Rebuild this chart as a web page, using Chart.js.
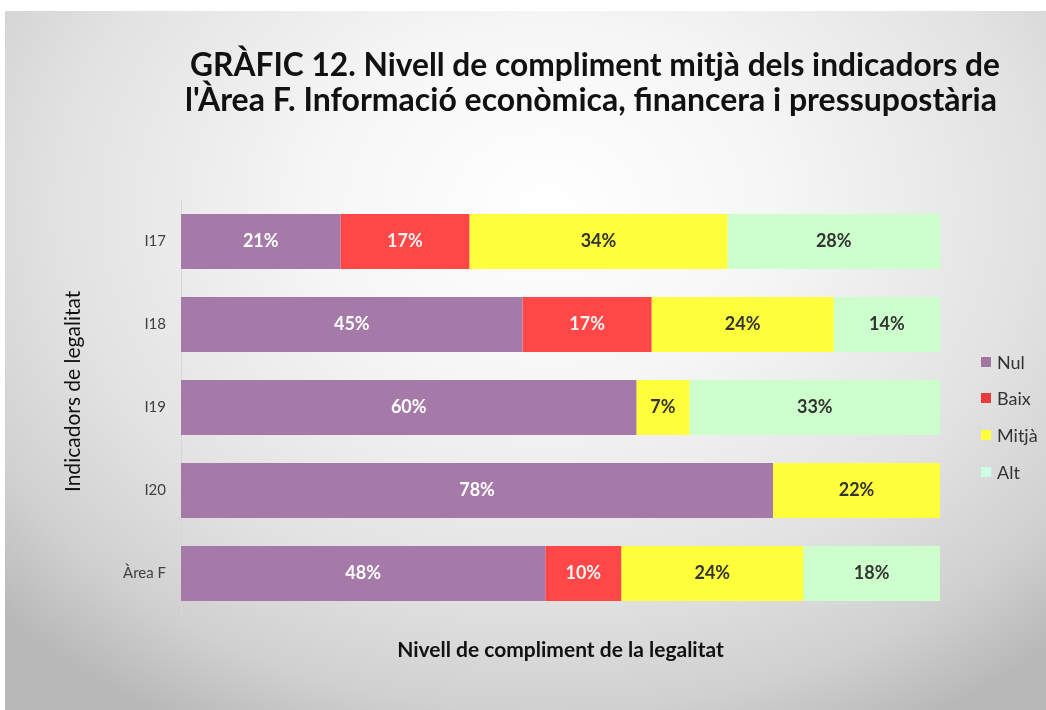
<!DOCTYPE html>
<html>
<head>
<meta charset="utf-8">
<script src="https://cdn.jsdelivr.net/npm/chart.js@4/dist/chart.umd.min.js"></script>
<style>
  html, body { margin: 0; padding: 0; background: #ffffff; }
  #bg { position: absolute; left: 5px; top: 11px; width: 1041px; height: 699px;
        background: radial-gradient(ellipse 72% 85% at 52% 28%, #ffffff 0%, #f6f6f6 30%, #e2e2e2 65%, #d0d0d0 85%, #b8b8b8 100%); }
  #wrap { position: absolute; left: 0; top: 0; width: 1046px; height: 710px; }
</style>
</head>
<body>
<div id="bg"></div>
<div id="wrap"><canvas id="c" width="1046" height="710"></canvas></div>
<script>
const categories = ['I17', 'I18', 'I19', 'I20', 'Àrea F'];
const seriesNames = ['Nul', 'Baix', 'Mitjà', 'Alt'];
const nulValues   = [21, 45, 60, 78, 48];
const baixValues  = [17, 17, 0, 0, 10];
const mitjaValues = [34, 24, 7, 22, 24];
const altValues   = [28, 14, 33, 0, 18];
const titleLines = ['GRÀFIC 12. Nivell de compliment mitjà dels indicadors de',
                    "l'Àrea F. Informació econòmica, financera i pressupostària"];
const xTitle = 'Nivell de compliment de la legalitat';
const yTitle = '      Indicadors de legalitat';

const colors = ['#a67aa8', '#ff4747', '#ffff3c', '#ccffcc'];
const legendColors = ['#9e789e', '#e83b3b', '#ffff3c', '#ccffe6'];
const labelColors = ['#ffffff', '#fff2f2', '#333333', '#333333'];

const titlePlugin = {
  id: 'customTitle',
  afterDraw(chart) {
    const ctx = chart.ctx;
    ctx.save();
    ctx.fillStyle = '#111111';
    ctx.font = 'bold 32px Lato';
    ctx.textAlign = 'center';
    ctx.textBaseline = 'alphabetic';
    ctx.fillText(titleLines[0], 595, 76, 810);
    ctx.fillText(titleLines[1], 591, 111, 822);
    ctx.restore();
  }
};

const dataLabelPlugin = {
  id: 'barLabels',
  afterDatasetsDraw(chart) {
    const ctx = chart.ctx;
    ctx.save();
    ctx.font = 'bold 18px Lato';
    ctx.textAlign = 'center';
    ctx.textBaseline = 'middle';
    chart.data.datasets.forEach((ds, di) => {
      const meta = chart.getDatasetMeta(di);
      meta.data.forEach((el, i) => {
        const v = ds.data[i];
        if (!v) return;
        const cx = (el.x + el.base) / 2;
        ctx.fillStyle = labelColors[di];
        ctx.fillText(v + '%', cx, el.y);
      });
    });
    ctx.restore();
  }
};

const legendPlugin = {
  id: 'customLegend',
  afterDraw(chart) {
    const ctx = chart.ctx;
    ctx.save();
    ctx.font = '18px Lato';
    ctx.textAlign = 'left';
    ctx.textBaseline = 'middle';
    const ys = [362, 398, 435, 472];
    chart.data.datasets.forEach((ds, di) => {
      ctx.fillStyle = legendColors[di];
      ctx.fillRect(981, ys[di] - 5, 10, 10);
      ctx.fillStyle = '#333333';
      ctx.fillText(ds.label, 997, ys[di] + 1);
    });
    ctx.restore();
  }
};

const seriesValues = [nulValues, baixValues, mitjaValues, altValues];

new Chart(document.getElementById('c'), {
  type: 'bar',
  data: {
    labels: categories,
    datasets: seriesNames.map((name, i) => ({
      label: name,
      data: seriesValues[i],
      backgroundColor: colors[i],
      borderWidth: 0,
      barPercentage: 0.66,
      categoryPercentage: 1.0
    }))
  },
  options: {
    indexAxis: 'y',
    responsive: false,
    animation: false,
    layout: { padding: { top: 200, right: 106, left: 55, bottom: 0 } },
    plugins: {
      legend: { display: false },
      title: { display: false },
      tooltip: { enabled: false }
    },
    scales: {
      x: {
        stacked: true,
        min: 0, max: 100,
        grid: { display: false, drawTicks: false },
        border: { display: false },
        ticks: { display: false },
        title: {
          display: true, text: xTitle, color: '#111111',
          font: { family: 'Lato', size: 21, weight: 'bold' },
          padding: { top: 0, bottom: 47 }
        },
        afterFit(scale) { scale.height = 95; }
      },
      y: {
        stacked: true,
        grid: { display: false, drawTicks: false },
        border: { display: true, color: '#d6d6d6', width: 1 },
        ticks: {
          color: '#404040',
          font: { family: 'Lato', size: 15 },
          padding: 15
        },
        title: {
          display: true, text: yTitle, color: '#111111',
          font: { family: 'Lato', size: 21 },
          padding: { top: 6, bottom: 0 }
        },
        afterFit(scale) { scale.width = 126; }
      }
    }
  },
  plugins: [titlePlugin, dataLabelPlugin, legendPlugin]
});
</script>
</body>
</html>
